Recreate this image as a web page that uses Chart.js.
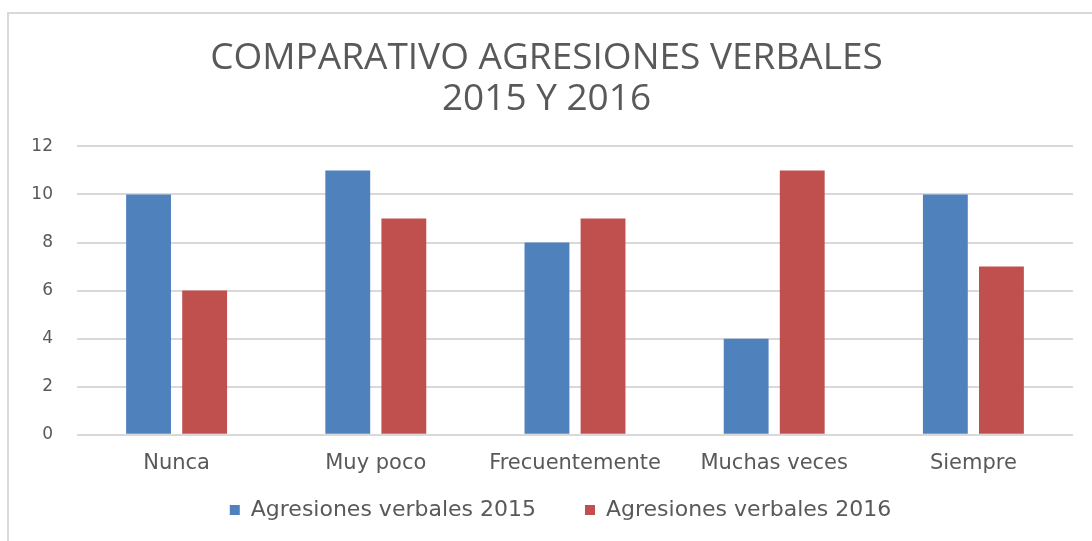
<!DOCTYPE html>
<html>
<head>
<meta charset="utf-8">
<script src="https://cdn.jsdelivr.net/npm/chart.js@4"></script>
<style>
    body { margin: 0; background: #fff; }
    #marco { position: absolute; left: 7px; top: 12px; width: 1100px; height: 540px; border-top: 2px solid #d9d9d9; border-left: 2px solid #d9d9d9; }
    #grafica { position: absolute; left: 0; top: 0; }
</style>
</head>
<body>
<div id="marco"></div>
<canvas id="grafica" width="1092" height="541"></canvas>
<script>
const categorias = ["Nunca", "Muy poco", "Frecuentemente", "Muchas veces", "Siempre"];
const agresiones2015 = [10, 11, 8, 4, 10];
const agresiones2016 = [6, 9, 9, 11, 7];
const etiquetasY = [0, 2, 4, 6, 8, 10, 12];

const fuente = "'Open Sans', sans-serif";
const fuenteEjes = "'DejaVu Sans', sans-serif";
const gris = '#595959';

// separa mas los dos elementos de la leyenda sin quitarle alto a la grafica
// (y la corre un poco a la derecha como en el original)
const separarLeyenda = {
    id: 'separarLeyenda',
    afterLayout(chart) {
        const ley = chart.legend;
        const extra = 42;
        ley.options.labels.padding += extra;
        ley.top -= extra;
        ley.lineWidths[0] += extra * 2 - 28;
    }
};

const ctx = document.getElementById('grafica').getContext('2d');

new Chart(ctx, {
    type: 'bar',
    data: {
        labels: categorias,
        datasets: [
            {
                label: 'Agresiones verbales 2015',
                data: agresiones2015,
                backgroundColor: '#4f81bd',
                barPercentage: 0.8,
                categoryPercentage: 0.563
            },
            {
                label: 'Agresiones verbales 2016',
                data: agresiones2016,
                backgroundColor: '#c0504d',
                barPercentage: 0.8,
                categoryPercentage: 0.563
            }
        ]
    },
    options: {
        responsive: false,
        animation: false,
        layout: {
            padding: { left: 20, right: 19, top: 38, bottom: 10 }
        },
        plugins: {
            title: {
                display: true,
                text: ['COMPARATIVO AGRESIONES VERBALES', '2015 Y 2016'],
                color: gris,
                font: { family: fuente, size: 37, weight: 'normal', lineHeight: 1.1 },
                padding: { top: 0, bottom: 27 }
            },
            legend: {
                position: 'bottom',
                labels: {
                    color: gris,
                    font: { family: fuenteEjes, size: 22 },
                    boxWidth: 10,
                    boxHeight: 10,
                    padding: 7
                }
            },
            tooltip: { enabled: false }
        },
        scales: {
            x: {
                grid: { display: false, drawTicks: false },
                border: { display: false },
                ticks: { color: gris, font: { family: fuenteEjes, size: 21 }, padding: 16 }
            },
            y: {
                min: 0,
                max: 12,
                afterBuildTicks: (eje) => { eje.ticks = etiquetasY.map(v => ({ value: v })); },
                afterFit: (eje) => { eje.width = 57; },
                grid: { color: '#d9d9d9', lineWidth: 2, drawTicks: false },
                border: { display: false },
                ticks: { color: gris, font: { family: fuenteEjes, size: 17 }, padding: 24 }
            }
        }
    },
    plugins: [separarLeyenda]
});
</script>
</body>
</html>
